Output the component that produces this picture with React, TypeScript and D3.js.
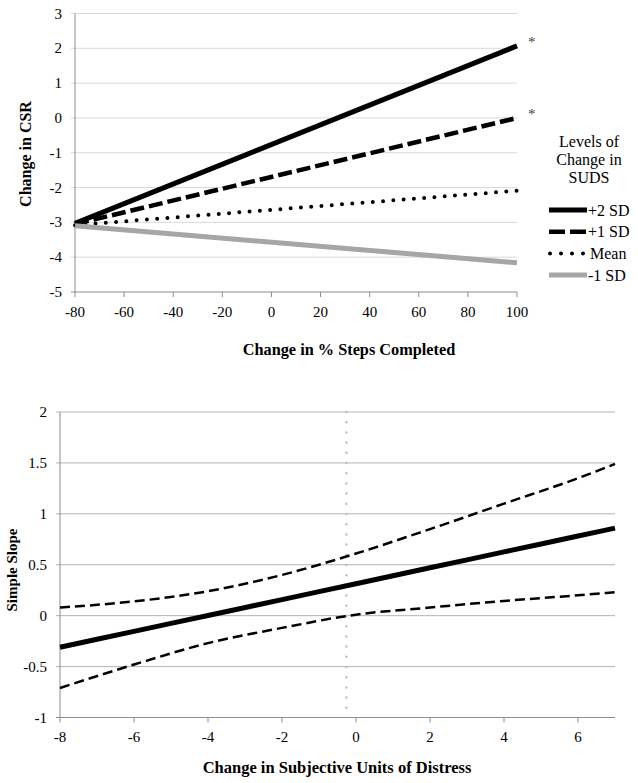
import React from "react";
import * as d3 from "d3";

// top panel: predicted change in CSR at levels of change in SUDS
const stepsX = [-80, 100];
const levelNames = ["+2 SD", "+1 SD", "Mean", "-1 SD"];
const levelValues = [
  [-3.03, 2.07],
  [-3.05, 0.0],
  [-3.08, -2.09],
  [-3.1, -4.16],
];
const levelStars = ["*", "*", "", ""];
const topXTicks = [-80, -60, -40, -20, 0, 20, 40, 60, 80, 100];
const topYTicks = [3, 2, 1, 0, -1, -2, -3, -4, -5];

// bottom panel: simple slope with confidence band
const sudsX = [-8, -6, -4, -2, 0, 2, 4, 6, 7];
const slopeEst = [-0.31, -0.154, 0.002, 0.158, 0.314, 0.47, 0.626, 0.782, 0.86];
const slopeUpper = [0.08, 0.14, 0.24, 0.4, 0.61, 0.85, 1.1, 1.35, 1.49];
const slopeLower = [-0.71, -0.48, -0.27, -0.12, 0.01, 0.08, 0.145, 0.2, 0.23];
const regionX = -0.26;
const botXTicks = [-8, -6, -4, -2, 0, 2, 4, 6];
const botYTicks = [2, 1.5, 1, 0.5, 0, -0.5, -1];

const FONT = "Liberation Serif";
const AXIS = "#8c8c8c";
const TICK_FS = 15;

const styles = [
  { stroke: "#000", width: 5, dash: undefined, legendDash: undefined, cap: "butt" },
  { stroke: "#000", width: 4.5, dash: "14,5", legendDash: "16,5", cap: "butt" },
  { stroke: "#000", width: 4, dash: "0,10.3", legendDash: "0,11", cap: "round" },
  { stroke: "#a6a6a6", width: 5, dash: undefined, legendDash: undefined, cap: "butt" },
] as const;

type Sc = d3.ScaleLinear<number, number>;

// gridlines + left/bottom axes drawn from the scales
const Frame = ({ x, y, xTicks, yTicks, grid }: { x: Sc; y: Sc; xTicks: number[]; yTicks: number[]; grid: string }) => {
  const [x0, x1] = x.range();
  const [y0, y1] = y.range();
  return (
    <g>
      {yTicks.map((t) => (
        <line key={"g" + t} x1={x0 - 4} x2={y(t) === y0 ? x0 : x1} y1={y(t)} y2={y(t)} stroke={y(t) === y0 ? AXIS : grid} />
      ))}
      <line x1={x0} x2={x1} y1={y0} y2={y0} stroke={AXIS} />
      <line x1={x0} x2={x0} y1={y0} y2={y1} stroke={AXIS} />
      {xTicks.map((t) => (
        <g key={"x" + t}>
          <line x1={x(t)} x2={x(t)} y1={y0} y2={y0 + 5} stroke={AXIS} />
          <text x={x(t)} y={y0 + 24.5} textAnchor="middle" fontSize={TICK_FS} fontFamily={FONT}>
            {String(t)}
          </text>
        </g>
      ))}
      {yTicks.map((t) => (
        <text key={"y" + t} x={x0 - 13} y={y(t) + 5} textAnchor="end" fontSize={TICK_FS} fontFamily={FONT}>
          {String(t)}
        </text>
      ))}
    </g>
  );
};

const App = () => {
  const tx = d3.scaleLinear().domain([-80, 100]).range([75, 517]);
  const ty = d3.scaleLinear().domain([-5, 3]).range([292, 13.5]);
  const bx = d3.scaleLinear().domain([-8, 7]).range([60, 615]);
  const by = d3.scaleLinear().domain([-1, 2]).range([717.5, 412]);

  const topLine = d3.line<number>().x((_, i) => tx(stepsX[i])).y((d) => ty(d));
  const botLine = d3
    .line<number>()
    .x((_, i) => bx(sudsX[i]))
    .y((d) => by(d))
    .curve(d3.curveMonotoneX);

  return (
    <svg
      width={638}
      height={783}
      fontFamily={FONT}
      style={{ position: "absolute", left: 0, top: 0, background: "white" }}
    >
      {/* top chart */}
      <Frame x={tx} y={ty} xTicks={topXTicks} yTicks={topYTicks} grid="#d9d9d9" />
      {levelValues.map((vals, i) => {
        const s = styles[i];
        return (
          <g key={levelNames[i]}>
            <path
              d={topLine(vals) ?? ""}
              fill="none"
              stroke={s.stroke}
              strokeWidth={s.width}
              strokeLinecap={s.cap}
              strokeDasharray={s.dash}
            />
            {levelStars[i] && (
              <text x={tx(100) + 11} y={ty(vals[1]) + 1} fontSize={15} fill="#444" fontFamily={FONT}>
                {levelStars[i]}
              </text>
            )}
          </g>
        );
      })}
      <text
        transform="translate(31,154) rotate(-90)"
        textAnchor="middle"
        fontWeight="bold"
        fontSize={16}
        fontFamily={FONT}
      >
        Change in CSR
      </text>
      <text x={349} y={355} textAnchor="middle" fontWeight="bold" fontSize={16.3} fontFamily={FONT}>
        Change in % Steps Completed
      </text>
      {["Levels of", "Change in", "SUDS"].map((t, i) => (
        <text key={t} x={589} y={147 + i * 18} textAnchor="middle" fontSize={16} fontFamily={FONT}>
          {t}
        </text>
      ))}
      {levelNames.map((name, i) => {
        const s = styles[i];
        const y = 210 + i * 21.7;
        const round = s.cap === "round";
        return (
          <g key={"lg" + name}>
            <line
              x1={round ? 550 : 549}
              x2={round ? 584 : 587}
              y1={y}
              y2={y}
              stroke={s.stroke}
              strokeWidth={s.width}
              strokeLinecap={s.cap}
              strokeDasharray={s.legendDash}
            />
            <text x={round ? 590 : 588} y={y + 5.5} fontSize={16} fontFamily={FONT}>
              {name}
            </text>
          </g>
        );
      })}

      {/* bottom chart */}
      <Frame x={bx} y={by} xTicks={botXTicks} yTicks={botYTicks} grid="#b3b3b3" />
      <line
        x1={bx(regionX)}
        x2={bx(regionX)}
        y1={by(2)}
        y2={by(-1)}
        stroke="#bfbfbf"
        strokeWidth={2.5}
        strokeLinecap="round"
        strokeDasharray="0,10.2"
      />
      {[slopeUpper, slopeLower].map((vals, i) => (
        <path key={"ci" + i} d={botLine(vals) ?? ""} fill="none" stroke="#000" strokeWidth={2.5} strokeDasharray="10,5" />
      ))}
      <path d={botLine(slopeEst) ?? ""} fill="none" stroke="#000" strokeWidth={5} />
      <text
        transform="translate(17,570) rotate(-90)"
        textAnchor="middle"
        fontWeight="bold"
        fontSize={15}
        fontFamily={FONT}
      >
        Simple Slope
      </text>
      <text x={337} y={773} textAnchor="middle" fontWeight="bold" fontSize={16.5} fontFamily={FONT}>
        Change in Subjective Units of Distress
      </text>
    </svg>
  );
};

export default App;
